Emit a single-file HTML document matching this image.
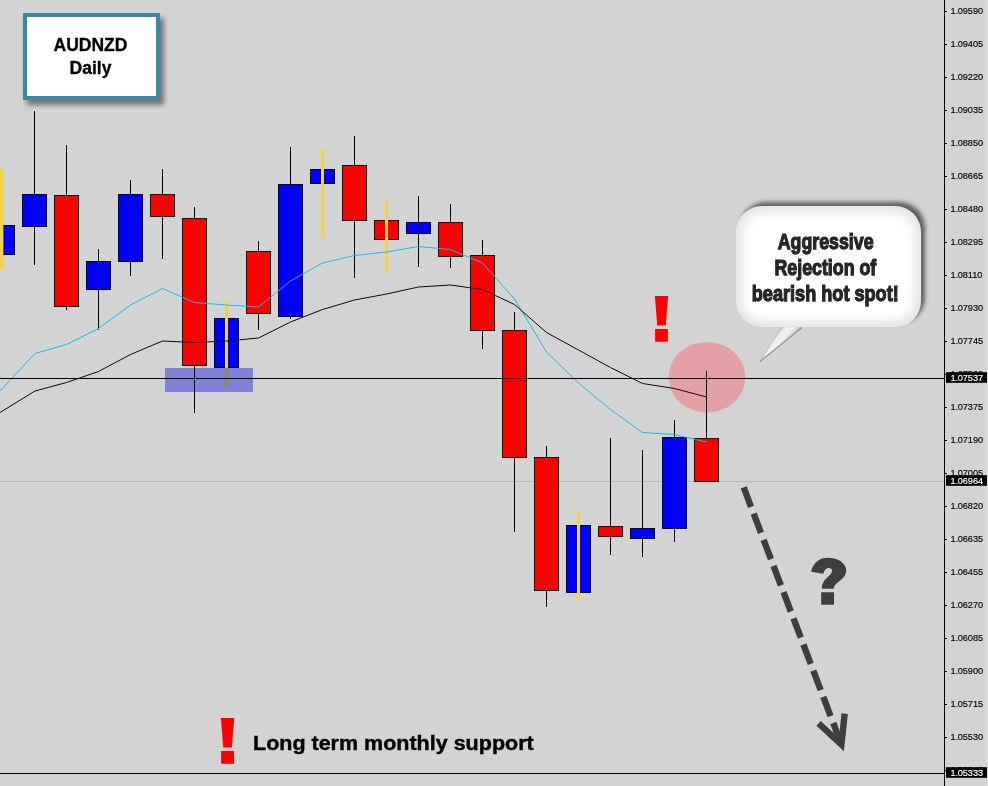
<!DOCTYPE html>
<html><head><meta charset="utf-8"><title>AUDNZD Daily</title>
<style>
html,body{margin:0;padding:0;}
body{width:988px;height:786px;overflow:hidden;background:#d3d3d3;font-family:"Liberation Sans",sans-serif;position:relative;}
svg{position:absolute;left:0;top:0;}
.ax{font-size:9.2px;letter-spacing:-0.1px;stroke:#000;stroke-width:0.15px;fill:#000;font-family:"Liberation Sans",sans-serif;}
.axw{font-size:9.2px;letter-spacing:-0.1px;stroke:#fff;stroke-width:0.15px;fill:#fff;font-family:"Liberation Sans",sans-serif;}
#title{position:absolute;left:23px;top:13px;width:129px;height:79px;border:4px solid #3b88a2;background:#fff;box-shadow:4px 5px 5px rgba(0,0,0,.45);text-align:center;font-weight:bold;font-size:17.5px;line-height:23px;color:#000;}
#title div{margin-top:17px;margin-left:-2px;-webkit-text-stroke:0.3px #000;}
#bubble{position:absolute;left:736px;top:206px;width:185px;height:121px;border-radius:26px;background:#fff;box-shadow:4px -4px 4.5px rgba(0,0,0,.55), inset 0 0 16px 3px rgba(0,0,0,.15);}
#btext{position:absolute;left:732.7px;top:206px;width:185px;text-align:center;font-weight:bold;color:#262626;font-size:22.5px;line-height:26px;}
#btext span{display:inline-block;transform-origin:50% 50%;white-space:nowrap;-webkit-text-stroke:1.25px #262626;transform:scaleX(0.79);}
#lt{position:absolute;left:253px;top:730.8px;transform:scaleX(1.075);-webkit-text-stroke:0.4px #000;font-weight:bold;font-size:20px;line-height:24px;color:#000;white-space:nowrap;transform-origin:0 50%;}
#q{position:absolute;left:808px;top:545px;font-weight:bold;font-size:64px;line-height:72px;color:#3c3c3c;-webkit-text-stroke:1.5px #3c3c3c;}
#wrap{position:absolute;left:0;top:0;width:988px;height:786px;will-change:transform;}
</style></head><body><div id="wrap">
<svg width="988" height="786" viewBox="0 0 988 786">
<rect x="165" y="368" width="88" height="24" fill="#8181d7" shape-rendering="crispEdges"/>
<ellipse cx="707" cy="377.2" rx="38.4" ry="35.3" fill="#e3a1a6"/>
<rect x="0" y="481" width="944" height="1" fill="#bababa" shape-rendering="crispEdges"/>
<g shape-rendering="crispEdges">
<rect x="-9.5" y="225.5" width="24" height="29" fill="#0000ff" stroke="#000" stroke-width="1"/><rect x="0" y="168" width="3.4" height="102" fill="#f2d24a" shape-rendering="auto"/>
<rect x="34" y="111" width="1" height="154" fill="#000"/><rect x="22.5" y="194.5" width="24" height="32" fill="#0000ff" stroke="#000" stroke-width="1"/>
<rect x="66" y="145" width="1" height="165" fill="#000"/><rect x="54.5" y="195.5" width="24" height="111" fill="#ff0000" stroke="#000" stroke-width="1"/>
<rect x="98" y="249" width="1" height="81" fill="#000"/><rect x="86.5" y="261.5" width="24" height="28" fill="#0000ff" stroke="#000" stroke-width="1"/>
<rect x="130" y="180" width="1" height="96" fill="#000"/><rect x="118.5" y="194.5" width="24" height="67" fill="#0000ff" stroke="#000" stroke-width="1"/>
<rect x="162" y="169" width="1" height="90" fill="#000"/><rect x="150.5" y="194.5" width="24" height="22" fill="#ff0000" stroke="#000" stroke-width="1"/>
<rect x="194" y="207" width="1" height="206" fill="#000"/><rect x="182.5" y="218.5" width="24" height="147" fill="#ff0000" stroke="#000" stroke-width="1"/>
<rect x="214.5" y="318.5" width="24" height="49" fill="#0000ff" stroke="#000" stroke-width="1"/><rect x="225" y="301" width="3" height="88" fill="#f2d24a" shape-rendering="auto"/>
<rect x="258" y="241" width="1" height="89" fill="#000"/><rect x="246.5" y="251.5" width="24" height="62" fill="#ff0000" stroke="#000" stroke-width="1"/>
<rect x="290" y="147" width="1" height="172" fill="#000"/><rect x="278.5" y="184.5" width="24" height="132" fill="#0000ff" stroke="#000" stroke-width="1"/>
<rect x="310.5" y="169.5" width="24" height="14" fill="#0000ff" stroke="#000" stroke-width="1"/><rect x="321" y="148" width="3" height="90" fill="#f2d24a" shape-rendering="auto"/>
<rect x="354" y="136" width="1" height="142" fill="#000"/><rect x="342.5" y="165.5" width="24" height="55" fill="#ff0000" stroke="#000" stroke-width="1"/>
<rect x="374.5" y="220.5" width="24" height="19" fill="#ff0000" stroke="#000" stroke-width="1"/><rect x="385" y="200" width="3" height="72" fill="#f2d24a" shape-rendering="auto"/>
<rect x="418" y="196" width="1" height="71" fill="#000"/><rect x="406.5" y="222.5" width="24" height="11" fill="#0000ff" stroke="#000" stroke-width="1"/>
<rect x="450" y="204" width="1" height="64" fill="#000"/><rect x="438.5" y="222.5" width="24" height="34" fill="#ff0000" stroke="#000" stroke-width="1"/>
<rect x="482" y="240" width="1" height="109" fill="#000"/><rect x="470.5" y="255.5" width="24" height="75" fill="#ff0000" stroke="#000" stroke-width="1"/>
<rect x="514" y="312" width="1" height="220" fill="#000"/><rect x="502.5" y="330.5" width="24" height="127" fill="#ff0000" stroke="#000" stroke-width="1"/>
<rect x="546" y="446" width="1" height="161" fill="#000"/><rect x="534.5" y="457.5" width="24" height="133" fill="#ff0000" stroke="#000" stroke-width="1"/>
<rect x="566.5" y="525.5" width="24" height="67" fill="#0000ff" stroke="#000" stroke-width="1"/><rect x="577" y="512" width="3" height="88" fill="#f2d24a" shape-rendering="auto"/>
<rect x="610" y="438" width="1" height="117" fill="#000"/><rect x="598.5" y="526.5" width="24" height="10" fill="#ff0000" stroke="#000" stroke-width="1"/>
<rect x="642" y="450" width="1" height="107" fill="#000"/><rect x="630.5" y="528.5" width="24" height="10" fill="#0000ff" stroke="#000" stroke-width="1"/>
<rect x="674" y="420" width="1" height="122" fill="#000"/><rect x="662.5" y="437.5" width="24" height="91" fill="#0000ff" stroke="#000" stroke-width="1"/>
<rect x="706" y="371" width="1" height="67" fill="#000"/><rect x="694.5" y="438.5" width="24" height="43" fill="#ff0000" stroke="#000" stroke-width="1"/>
</g>
<path d="M0 391 L35 353.5 L66.5 344.5 L98.5 328.5 L130.5 305 L162.5 288.5 L194.5 302.5 L226.5 305 L258.5 307 L290.5 281 L322.5 263 L354.5 255.5 L386.5 252 L418.5 246.5 L450.5 249.5 L482.5 263 L514.5 299 L546.5 352 L578.5 383 L610.5 409.5 L642.5 432.5 L674.5 434.5 L706.5 442" fill="none" stroke="#1fb6ee" stroke-width="1"/>
<path d="M0 412.5 L35 391 L66.5 382.5 L98.5 371.5 L130.5 354.5 L162.5 341 L194.5 342.5 L226.5 341 L258.5 338 L290.5 322 L322.5 309.5 L354.5 300 L386.5 294 L418.5 287 L450.5 285 L482.5 289.5 L514.5 304.5 L546.5 332.5 L578.5 350 L610.5 367.5 L642.5 383.5 L674.5 388.5 L706.5 397" fill="none" stroke="#000" stroke-width="0.95"/>
<rect x="225" y="368" width="3" height="21" fill="#8e8958"/>
<g shape-rendering="crispEdges"><rect x="0" y="378" width="944" height="1" fill="#000"/><rect x="0" y="773" width="944" height="1" fill="#000"/><rect x="944" y="0" width="1" height="786" fill="#000"/><rect x="987" y="0" width="1" height="786" fill="#dedede"/><rect x="945" y="11" width="2" height="1" fill="#000"/><rect x="945" y="44" width="2" height="1" fill="#000"/><rect x="945" y="77" width="2" height="1" fill="#000"/><rect x="945" y="110" width="2" height="1" fill="#000"/><rect x="945" y="143" width="2" height="1" fill="#000"/><rect x="945" y="176" width="2" height="1" fill="#000"/><rect x="945" y="209" width="2" height="1" fill="#000"/><rect x="945" y="242" width="2" height="1" fill="#000"/><rect x="945" y="275" width="2" height="1" fill="#000"/><rect x="945" y="308" width="2" height="1" fill="#000"/><rect x="945" y="341" width="2" height="1" fill="#000"/><rect x="945" y="374" width="2" height="1" fill="#000"/><rect x="945" y="407" width="2" height="1" fill="#000"/><rect x="945" y="440" width="2" height="1" fill="#000"/><rect x="945" y="473" width="2" height="1" fill="#000"/><rect x="945" y="506" width="2" height="1" fill="#000"/><rect x="945" y="539" width="2" height="1" fill="#000"/><rect x="945" y="572" width="2" height="1" fill="#000"/><rect x="945" y="605" width="2" height="1" fill="#000"/><rect x="945" y="638" width="2" height="1" fill="#000"/><rect x="945" y="671" width="2" height="1" fill="#000"/><rect x="945" y="704" width="2" height="1" fill="#000"/><rect x="945" y="737" width="2" height="1" fill="#000"/></g>
<text class="ax" x="950.4" y="13.9">1.09590</text><text class="ax" x="950.4" y="46.9">1.09405</text><text class="ax" x="950.4" y="79.9">1.09220</text><text class="ax" x="950.4" y="112.9">1.09035</text><text class="ax" x="950.4" y="145.9">1.08850</text><text class="ax" x="950.4" y="178.9">1.08665</text><text class="ax" x="950.4" y="211.9">1.08480</text><text class="ax" x="950.4" y="244.9">1.08295</text><text class="ax" x="950.4" y="277.9">1.08110</text><text class="ax" x="950.4" y="310.9">1.07930</text><text class="ax" x="950.4" y="343.9">1.07745</text><text class="ax" x="950.4" y="376.9">1.07560</text><text class="ax" x="950.4" y="409.9">1.07375</text><text class="ax" x="950.4" y="442.9">1.07190</text><text class="ax" x="950.4" y="475.9">1.07005</text><text class="ax" x="950.4" y="508.9">1.06820</text><text class="ax" x="950.4" y="541.9">1.06635</text><text class="ax" x="950.4" y="574.9">1.06455</text><text class="ax" x="950.4" y="607.9">1.06270</text><text class="ax" x="950.4" y="640.9">1.06085</text><text class="ax" x="950.4" y="673.9">1.05900</text><text class="ax" x="950.4" y="706.9">1.05715</text><text class="ax" x="950.4" y="739.9">1.05530</text><rect x="945" y="770" width="2" height="1" fill="#000" shape-rendering="crispEdges"/><text class="ax" x="950.4" y="772.9">1.05345</text>
<rect x="946" y="372.2" width="41" height="10.6" fill="#000"/><text class="axw" x="950.4" y="381">1.07537</text>
<rect x="946" y="475.2" width="41" height="10.6" fill="#000"/><text class="axw" x="950.4" y="484">1.06964</text>
<rect x="946" y="767.2" width="41" height="10.6" fill="#000"/><text class="axw" x="950.4" y="776">1.05333</text>
<defs><linearGradient id="tg" gradientUnits="userSpaceOnUse" x1="786.2" y1="321.7" x2="797.8" y2="332.3"><stop offset="0" stop-color="#cccccc"/><stop offset="0.25" stop-color="#efefef"/><stop offset="0.6" stop-color="#f1f1f1"/><stop offset="1" stop-color="#b8b8b8"/></linearGradient></defs>
<path d="M781.5 326 L760 361.5 L803 326 Z" fill="url(#tg)"/><path d="M781.5 327.5 L760 361.5" stroke="rgba(0,0,0,0.13)" stroke-width="1.2" fill="none"/><path d="M760 361.5 L802 327.5" stroke="rgba(0,0,0,0.3)" stroke-width="1.3" fill="none"/>
<line x1="743.7" y1="487.45" x2="841.4" y2="744.5" stroke="#3e3e3e" stroke-width="6.4" stroke-dasharray="20.7 7.3"/>
<path d="M818.6 723.4 L841.4 744.5 L844.7 713.6" fill="none" stroke="#3e3e3e" stroke-width="6.4" stroke-linejoin="miter" stroke-miterlimit="10"/>
<g transform="translate(800,545) scale(0.08905)" fill="#3e3e3e"><path d="M125 300 C135 240 175 180 250 152 C300 138 390 140 450 178 C500 210 525 260 518 300 C512 350 470 385 430 415 C395 442 380 460 378 490 L245 490 C245 440 262 405 300 370 C335 338 360 315 360 285 C360 262 330 252 305 260 C280 270 268 295 262 322 Z M238 530 H382 V672 H238 Z"/></g>
<path d="M654.9 296.1 L668.1 296.1 L665.79 325.6 L657.21 325.6 Z M655.1 329.1 H667.9 V341.8 H655.1 Z" fill="#ff0000"/>
<path d="M220.9 718.1 L234.2 718.1 L231.873 747.6 L223.227 747.6 Z M221.1 751.1 H234 V763.8 H221.1 Z" fill="#ff0000"/>
</svg>
<div id="title"><div>AUDNZD<br>Daily</div></div>
<div id="bubble"></div>
<div id="btext"><div style="height:23px"></div><span id="l1">Aggressive</span><br><span id="l2">Rejection of</span><br><span id="l3" style="transform:scaleX(0.805)">bearish hot spot!</span></div>
<div id="lt">Long term monthly support</div>
</div></body></html>
